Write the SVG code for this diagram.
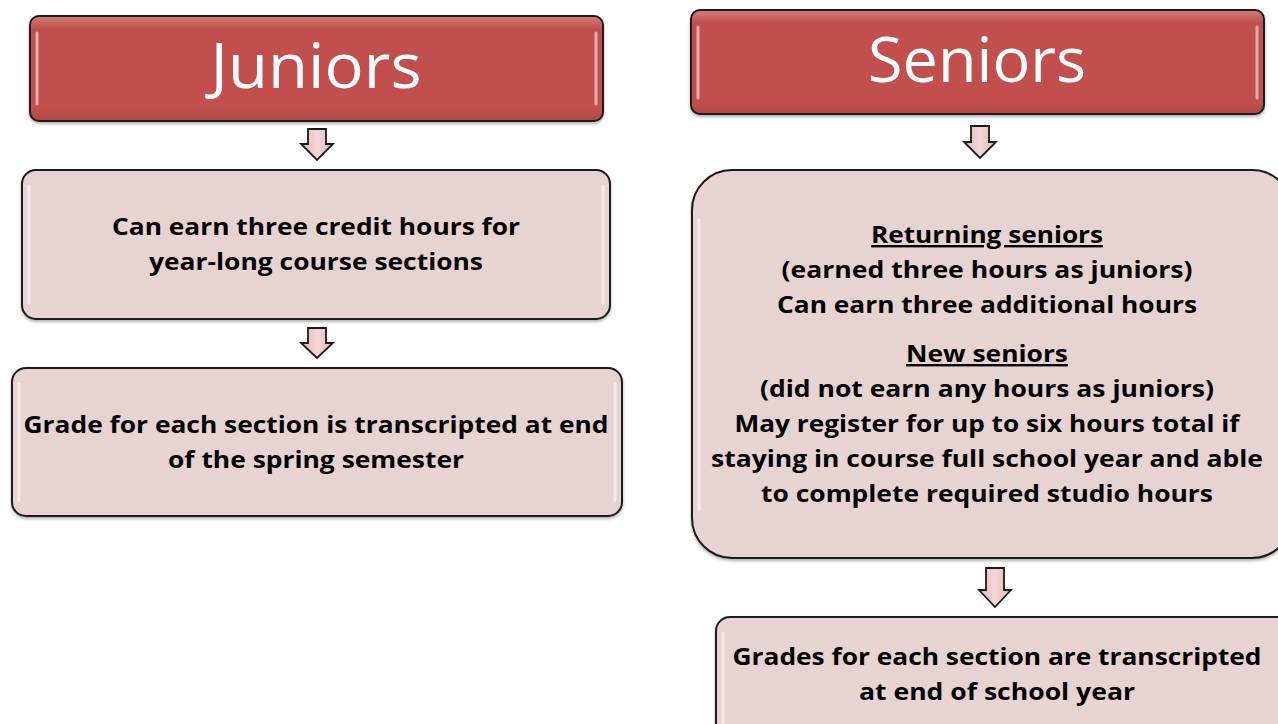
<svg xmlns="http://www.w3.org/2000/svg" width="1278" height="724" viewBox="0 0 1278 724">
<defs>
<style>
.hdr{fill:#C0504D;stroke:#1a1a1a;stroke-width:2}
.box{fill:#E8D3D3;stroke:#1a1a1a;stroke-width:2}
.arr{fill:url(#ag);stroke:#1a1a1a;stroke-width:1.8;stroke-linejoin:miter}
.ht{font-family:"Open Sans","Noto Sans",sans-serif;fill:#ffffff;text-anchor:middle}
.bt{font-family:"Open Sans","Noto Sans",sans-serif;font-weight:bold;fill:#000;text-anchor:middle;font-size:24px}
.ul{text-decoration:underline}
.gl{fill:none;stroke:#ffffff;stroke-opacity:0.55;stroke-width:3;stroke-linecap:round}
</style>
<linearGradient id="ag" x1="0" y1="0" x2="1" y2="0">
<stop offset="0" stop-color="#E3B5B4"/>
<stop offset="0.5" stop-color="#F3D6D5"/>
<stop offset="1" stop-color="#E3B5B4"/>
</linearGradient>
<linearGradient id="hg" x1="0" y1="0" x2="0" y2="1">
<stop offset="0" stop-color="#ffffff" stop-opacity="0.25"/>
<stop offset="0.12" stop-color="#ffffff" stop-opacity="0"/>
<stop offset="0.9" stop-color="#000000" stop-opacity="0"/>
<stop offset="1" stop-color="#000000" stop-opacity="0.08"/>
</linearGradient>
<filter id="sh" x="-5%" y="-5%" width="110%" height="115%">
<feDropShadow dx="0" dy="2" stdDeviation="1.5" flood-color="#000" flood-opacity="0.3"/>
</filter>
</defs>
<rect width="1278" height="724" fill="#ffffff"/>

<g id="connectors">
<path class="arr" d="M308,129 H326 V144 H333 L317,160 L301,144 H308 Z"/>
<path class="arr" d="M308,328 H326 V343 H333 L317,358 L301,343 H308 Z"/>
<path class="arr" d="M971,126 H989 V142 H996 L980,158 L964,142 H971 Z"/>
<path class="arr" d="M986,568 H1004 V590 H1011 L995,607 L979,590 H986 Z"/>
</g>

<g id="juniors">
<rect class="hdr" x="30" y="16" width="573" height="105" rx="9" filter="url(#sh)"/>
<rect x="31" y="17" width="571" height="103" rx="8" fill="url(#hg)"/>
<path class="gl" d="M37,33 V104 M596,33 V104"/>
<text class="ht" x="316" y="88" font-size="62" textLength="211" lengthAdjust="spacingAndGlyphs">Juniors</text>
</g>

<g id="seniors">
<rect class="hdr" x="691" y="10" width="573" height="104" rx="9" filter="url(#sh)"/>
<rect x="692" y="11" width="571" height="102" rx="8" fill="url(#hg)"/>
<path class="gl" d="M698,27 V98 M1257,27 V98"/>
<text class="ht" x="977" y="82" font-size="62" textLength="218" lengthAdjust="spacingAndGlyphs">Seniors</text>
</g>

<g id="junior-credit">
<rect class="box" x="22" y="170" width="588" height="149" rx="14" filter="url(#sh)"/>
<path class="gl" d="M29,186 V303 M603,186 V303"/>
<text class="bt" x="316" y="235" textLength="408" lengthAdjust="spacingAndGlyphs">Can earn three credit hours for</text>
<text class="bt" x="316" y="270" textLength="334" lengthAdjust="spacingAndGlyphs">year-long course sections</text>
</g>

<g id="junior-grade">
<rect class="box" x="12" y="368" width="610" height="148" rx="14" filter="url(#sh)"/>
<path class="gl" d="M19,384 V500 M615,384 V500"/>
<text class="bt" x="316" y="433" textLength="585" lengthAdjust="spacingAndGlyphs">Grade for each section is transcripted at end</text>
<text class="bt" x="316" y="468" textLength="296" lengthAdjust="spacingAndGlyphs">of the spring semester</text>
</g>

<g id="senior-credit">
<rect class="box" x="692" y="170" width="600" height="388" rx="40" filter="url(#sh)"/>
<path class="gl" d="M699,220 V510"/>
<text class="bt ul" x="987" y="243" textLength="232" lengthAdjust="spacingAndGlyphs">Returning seniors</text>
<text class="bt" x="987" y="278" textLength="411" lengthAdjust="spacingAndGlyphs">(earned three hours as juniors)</text>
<text class="bt" x="987" y="313" textLength="420" lengthAdjust="spacingAndGlyphs">Can earn three additional hours</text>
<text class="bt ul" x="987" y="362" textLength="162" lengthAdjust="spacingAndGlyphs">New seniors</text>
<text class="bt" x="987" y="397" textLength="454" lengthAdjust="spacingAndGlyphs">(did not earn any hours as juniors)</text>
<text class="bt" x="987" y="432" textLength="505" lengthAdjust="spacingAndGlyphs">May register for up to six hours total if</text>
<text class="bt" x="987" y="467" textLength="552" lengthAdjust="spacingAndGlyphs">staying in course full school year and able</text>
<text class="bt" x="987" y="502" textLength="452" lengthAdjust="spacingAndGlyphs">to complete required studio hours</text>
</g>

<g id="senior-grade">
<rect class="box" x="716" y="617" width="580" height="120" rx="14" filter="url(#sh)"/>
<path class="gl" d="M723,633 V724"/>
<text class="bt" x="997" y="665" textLength="529" lengthAdjust="spacingAndGlyphs">Grades for each section are transcripted</text>
<text class="bt" x="997" y="700" textLength="276" lengthAdjust="spacingAndGlyphs">at end of school year</text>
</g>
</svg>
